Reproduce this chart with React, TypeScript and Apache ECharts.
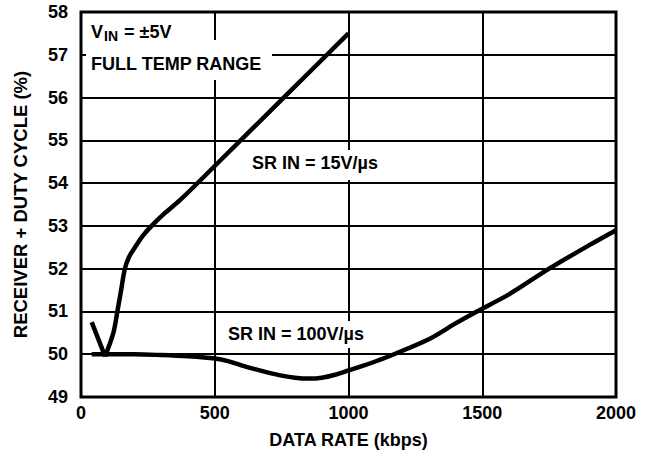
import React, { useEffect, useRef } from "react";
import * as echarts from "echarts";

const xTicks = [0, 500, 1000, 1500, 2000];
const yTicks = [49, 50, 51, 52, 53, 54, 55, 56, 57, 58];

const sr15Rate = [40, 90, 121, 136, 150, 164, 180, 202, 230, 264, 310, 370, 500, 755, 1000];
const sr15Duty = [50.75, 49.95, 50.5, 51.0, 51.5, 52.0, 52.28, 52.5, 52.76, 53.0, 53.28, 53.6, 54.4, 55.98, 57.5];

const sr100Rate = [40, 100, 200, 300, 400, 500, 550, 600, 650, 700, 750, 800, 850, 900, 950, 1000, 1050, 1100, 1170, 1300, 1400, 1480, 1600, 1750, 1900, 2000];
const sr100Duty = [50.0, 50.0, 50.0, 49.98, 49.95, 49.9, 49.84, 49.74, 49.65, 49.57, 49.5, 49.45, 49.43, 49.45, 49.52, 49.62, 49.72, 49.83, 50.0, 50.35, 50.72, 51.0, 51.4, 52.0, 52.55, 52.9];

const FONT = "'Liberation Sans', Arial, sans-serif";

export default function App() {
  const ref = useRef<HTMLDivElement>(null);
  useEffect(() => {
    if (!ref.current) return;
    const chart = echarts.init(ref.current, null, { renderer: "svg" });
    const txt = (x: number, y: number, s: string, size = 18) => ({
      type: "text",
      x,
      y,
      z: 101,
      style: {
        text: s,
        fill: "#000",
        font: `bold ${size}px ${FONT}`,
        textVerticalAlign: "middle",
      },
    });
    const box = (x: number, y: number, w: number, h: number) => ({
      type: "rect",
      z: 100,
      shape: { x, y, width: w, height: h },
      style: { fill: "#fff" },
    });
    const sr15 = sr15Rate.map((r, i) => [r, sr15Duty[i]]);
    const line = (data: number[][], smooth: number | boolean) => ({
      type: "line",
      data,
      showSymbol: false,
      smooth,
      lineStyle: { color: "#000", width: 4.5, join: "round", cap: "butt" },
      z: 5,
    });
    chart.setOption({
      animation: false,
      backgroundColor: "#fff",
      grid: {
        left: 81,
        right: 33,
        top: 12,
        bottom: 59,
        show: true,
        borderColor: "#000",
        borderWidth: 3,
        backgroundColor: "transparent",
      },
      xAxis: {
        type: "value",
        min: xTicks[0],
        max: xTicks[xTicks.length - 1],
        interval: 500,
        name: "DATA RATE (kbps)",
        nameLocation: "middle",
        nameGap: 34,
        nameTextStyle: { color: "#000", fontWeight: "bold", fontSize: 18, fontFamily: FONT },
        axisLine: { show: false },
        axisTick: { show: false },
        axisLabel: {
          color: "#000",
          fontWeight: "bold",
          fontSize: 18,
          fontFamily: FONT,
          margin: 7,
          formatter: (v: number) => String(v),
        },
        splitLine: { show: true, lineStyle: { color: "#000", width: 2 } },
      },
      yAxis: {
        type: "value",
        min: yTicks[0],
        max: yTicks[yTicks.length - 1],
        interval: 1,
        name: "RECEIVER + DUTY CYCLE (%)",
        nameLocation: "middle",
        nameGap: 51,
        nameRotate: 90,
        nameTextStyle: { color: "#000", fontWeight: "bold", fontSize: 18.5, fontFamily: FONT },
        axisLine: { show: false },
        axisTick: { show: false },
        axisLabel: { color: "#000", fontWeight: "bold", fontSize: 18, fontFamily: FONT, margin: 13 },
        splitLine: { show: true, lineStyle: { color: "#000", width: 2 } },
      },
      series: [
        line(sr15.slice(0, 2), false),
        line(sr15.slice(1), 0.3),
        line(sr100Rate.map((r, i) => [r, sr100Duty[i]]), 0.3),
      ],
      graphic: [
        box(86, 40, 186, 40),
        box(248, 150, 136, 30),
        box(224, 321, 150, 27),
        txt(91, 31.5, "V"),
        txt(104, 35.5, "IN", 14),
        txt(119, 31.5, " = ±5V"),
        txt(91, 64, "FULL TEMP RANGE"),
        txt(252, 163, "SR IN = 15V/µs"),
        txt(228, 334, "SR IN = 100V/µs"),
      ],
    });
    return () => chart.dispose();
  }, []);
  return <div ref={ref} style={{ width: 649, height: 456, position: "absolute", left: 0, top: 0 }} />;
}
